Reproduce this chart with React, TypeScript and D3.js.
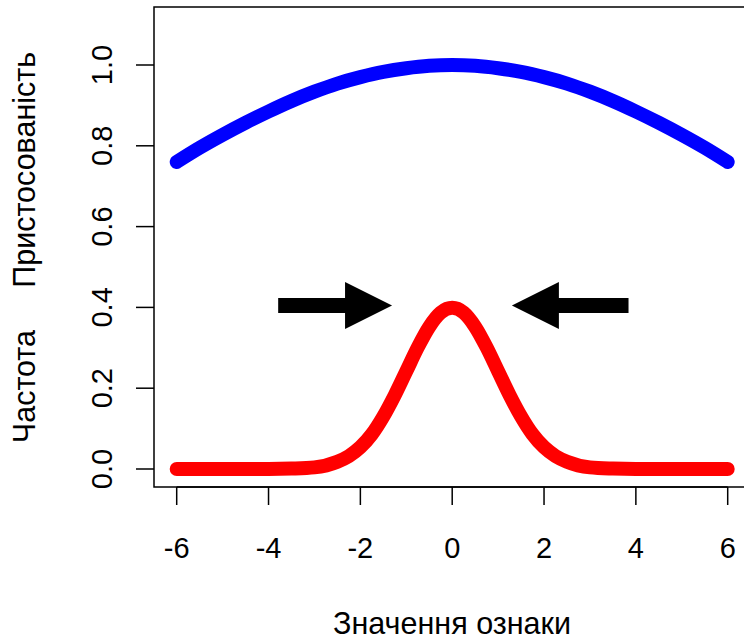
import React from 'react';
import * as d3 from 'd3';

// значення ознаки (x) і криві
const xsBlue = [-6, -5.5, -5, -4.5, -4, -3.5, -3, -2.5, -2, -1.5, -1, -0.5, 0, 0.5, 1, 1.5, 2, 2.5, 3, 3.5, 4, 4.5, 5, 5.5, 6];
const fitness = [0.76, 0.795, 0.827, 0.857, 0.885, 0.911, 0.934, 0.954, 0.970, 0.983, 0.992, 0.998, 1.0, 0.998, 0.992, 0.983, 0.970, 0.954, 0.934, 0.911, 0.885, 0.857, 0.827, 0.795, 0.76];
const xsRed = [-6, -5, -4, -3.5, -3, -2.5, -2.25, -2, -1.75, -1.5, -1.25, -1, -0.75, -0.5, -0.25, 0, 0.25, 0.5, 0.75, 1, 1.25, 1.5, 1.75, 2, 2.25, 2.5, 3, 3.5, 4, 5, 6];
const freq = [0, 0, 0, 0.001, 0.004, 0.018, 0.032, 0.054, 0.086, 0.130, 0.183, 0.242, 0.301, 0.352, 0.387, 0.399, 0.387, 0.352, 0.301, 0.242, 0.183, 0.130, 0.086, 0.054, 0.032, 0.018, 0.004, 0.001, 0, 0, 0];

const xTicks = [-6, -4, -2, 0, 2, 4, 6];
const yTicks = [0, 0.2, 0.4, 0.6, 0.8, 1.0];

// стрілки: [x0, x1, y]
const arrows = [
  [-3.79, -1.31, 0.405],
  [3.84, 1.3, 0.405],
];

const W = 744;
const H = 640;
const font = '"Liberation Sans", Arial, sans-serif';

const App = () => {
  const x = d3.scaleLinear().domain([-6, 6]).range([176.7, 727.7]);
  const y = d3.scaleLinear().domain([0, 1]).range([469, 65]);
  const left = 154;
  const top = 7;
  const bottom = 487;

  const blue = d3
    .line<number>()
    .x((_, i) => x(xsBlue[i]))
    .y((d) => y(d))
    .curve(d3.curveMonotoneX)(fitness) as string;
  const red = d3
    .line<number>()
    .x((_, i) => x(xsRed[i]))
    .y((d) => y(d))
    .curve(d3.curveMonotoneX)(freq) as string;

  const arrowPath = (x0: number, x1: number, yv: number) => {
    const dir = Math.sign(x1 - x0);
    const yc = y(yv);
    const headLen = 47;
    const headHalf = 23.5;
    const shaftHalf = 7.5;
    const xb = x(x1) - dir * headLen;
    return [
      [x(x0), yc - shaftHalf],
      [xb, yc - shaftHalf],
      [xb, yc - headHalf],
      [x(x1), yc],
      [xb, yc + headHalf],
      [xb, yc + shaftHalf],
      [x(x0), yc + shaftHalf],
    ]
      .map((p, i) => (i ? 'L' : 'M') + p[0] + ',' + p[1])
      .join('') + 'Z';
  };

  return (
    <svg width={W} height={H} style={{ position: 'absolute', left: 0, top: 0, background: '#fff' }} fontFamily={font}>
      <rect x={0} y={0} width={W} height={H} fill="#fff" />
      {/* рамка */}
      <path d={`M${W + 5},${top}H${left}V${bottom}H${W + 5}`} fill="none" stroke="#000" strokeWidth={1.5} />

      <path d={blue} fill="none" stroke="#0000ff" strokeWidth={14} strokeLinecap="round" strokeLinejoin="round" />
      <path d={red} fill="none" stroke="#ff0000" strokeWidth={14} strokeLinecap="round" strokeLinejoin="round" />

      {arrows.map((a, i) => (
        <path key={i} d={arrowPath(a[0], a[1], a[2])} fill="#000" />
      ))}

      {/* вісь x */}
      <line x1={x(-6)} x2={x(6)} y1={bottom} y2={bottom} stroke="#000" strokeWidth={1.5} />
      {xTicks.map((t) => (
        <g key={t}>
          <line x1={x(t)} x2={x(t)} y1={bottom} y2={bottom + 18} stroke="#000" strokeWidth={1.5} />
          <text x={x(t)} y={558} fontSize={29} textAnchor="middle">
            {t}
          </text>
        </g>
      ))}

      {/* вісь y */}
      {yTicks.map((t) => (
        <g key={t}>
          <line x1={left} x2={left - 18} y1={y(t)} y2={y(t)} stroke="#000" strokeWidth={1.5} />
          <text transform={`translate(112,${y(t)}) rotate(-90)`} fontSize={29} textAnchor="middle">
            {t.toFixed(1)}
          </text>
        </g>
      ))}

      <text x={452} y={634} fontSize={30.5} textAnchor="middle">
        Значення ознаки
      </text>
      <text transform={`translate(35,247.5) rotate(-90)`} fontSize={30.5} textAnchor="middle" style={{ whiteSpace: 'pre' }}>
        {'Частота     Пристосованість'}
      </text>
    </svg>
  );
};

export default App;
